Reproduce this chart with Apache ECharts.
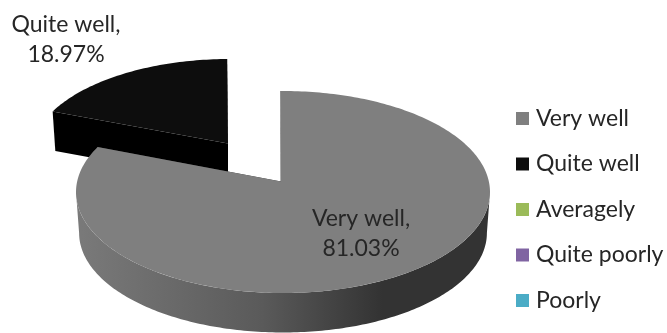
<!DOCTYPE html>
<html><head><meta charset="utf-8">
<style>html,body{margin:0;padding:0;background:#fff}#c{width:667px;height:333px}</style>
<script src="https://cdn.jsdelivr.net/npm/echarts@6/dist/echarts.min.js"></script>
</head><body><div id="c"></div>
<script>
const categories = ['Very well','Quite well','Averagely','Quite poorly','Poorly'];
const values = [81.03,18.97,0,0,0];
const colors = ['#7f7f7f','#0d0d0d','#9bbb59','#8064a2','#4bacc6'];
const FONT = 'Lato';
const FS = 23;
const geom = {
  'Very well': {cx:283,cy:192,rx:207,ry:101,depth:41,z:3,lx:361,ly:234,
    side:[[0,'#7a7a7a'],[0.45,'#5a5a5a'],[0.74,'#333333'],[1,'#333333']],face:'#333333'},
  'Quite well': {cx:230,cy:153.5,rx:198,ry:94.5,depth:39,z:2,lx:66,ly:40,side:[[0,'#000'],[1,'#000']],face:'#000'}
};
const k = 0.9, skew = -0.8, bottomScale = 0.985;
const rad = d => d*Math.PI/180;
function phi(t){
  if (t===180) return 180+skew;
  const a = 2*Math.atan(k*Math.tan(rad(t/2)))*180/Math.PI;
  return (t>180 ? a+360 : a)+skew;
}
function rim(g,p,drop,s){return [g.cx+s*g.rx*Math.sin(rad(p)), g.cy+drop-s*g.ry*Math.cos(rad(p))];}
function apex(g,drop,s){return [g.cx-2*s, g.cy+drop-s*g.ry*Math.cos(rad(phi(90)-skew))];}
function arc(g,a,b,drop,s){const o=[];const n=Math.max(2,Math.ceil(Math.abs(b-a)));
  for(let i=0;i<=n;i++)o.push(rim(g,a+(b-a)*i/n,drop,s));return o;}
const total = values.reduce((a,b)=>a+b,0);
let acc = 0;
const series = categories.map((name,i)=>{
  const start = acc/total*360; acc += values[i]; const end = acc/total*360;
  return {
    name, type:'custom', coordinateSystem:'none', silent:true, z:(geom[name]||{z:1}).z,
    itemStyle:{color:colors[i]},
    data:[[values[i]]],
    renderItem(){
      const g = geom[name];
      if(!g || values[i]<=0) return {type:'group',children:[]};
      const p0=phi(start),p1=phi(end),ch=[];
      const fill=(pts,f,z2)=>ch.push({type:'polygon',z2,shape:{points:pts},style:{fill:f}});
      const A=apex(g,0,1),B=apex(g,g.depth,bottomScale);
      [p0,p1].forEach(p=>fill([A,rim(g,p,0,1),rim(g,p,g.depth,bottomScale),B],g.face,1));
      const a=Math.max(p0,90),b=Math.min(p1,270);
      if(b>a){
        const pts=arc(g,a,b,0,1).concat(arc(g,b,a,g.depth,bottomScale));
        fill(pts,new echarts.graphic.LinearGradient(0,0,1,0,g.side.map(s=>({offset:s[0],color:s[1]}))),2);
      }
      fill([A].concat(arc(g,p0,p1,0,1)),colors[i],3);
      ch.push({type:'text',z2:5,style:{x:g.lx,y:g.ly,text:name+',\n'+values[i].toFixed(2)+'%',
        fill:'#262626',font:FS+'px "'+FONT+'"',align:'center',verticalAlign:'middle',lineHeight:30}});
      return {type:'group',children:ch};
    }
  };
});
const chart = echarts.init(document.getElementById('c'),null,{renderer:'canvas'});
chart.setOption({
  animation:false,
  legend:{orient:'vertical',left:516,top:107,padding:0,icon:'rect',itemWidth:13,itemHeight:13,itemGap:22.5,
    selectedMode:false,data:categories,
    textStyle:{fontFamily:FONT,fontSize:FS,color:'#262626',padding:[0,0,0,2]}},
  series
});
</script></body></html>
